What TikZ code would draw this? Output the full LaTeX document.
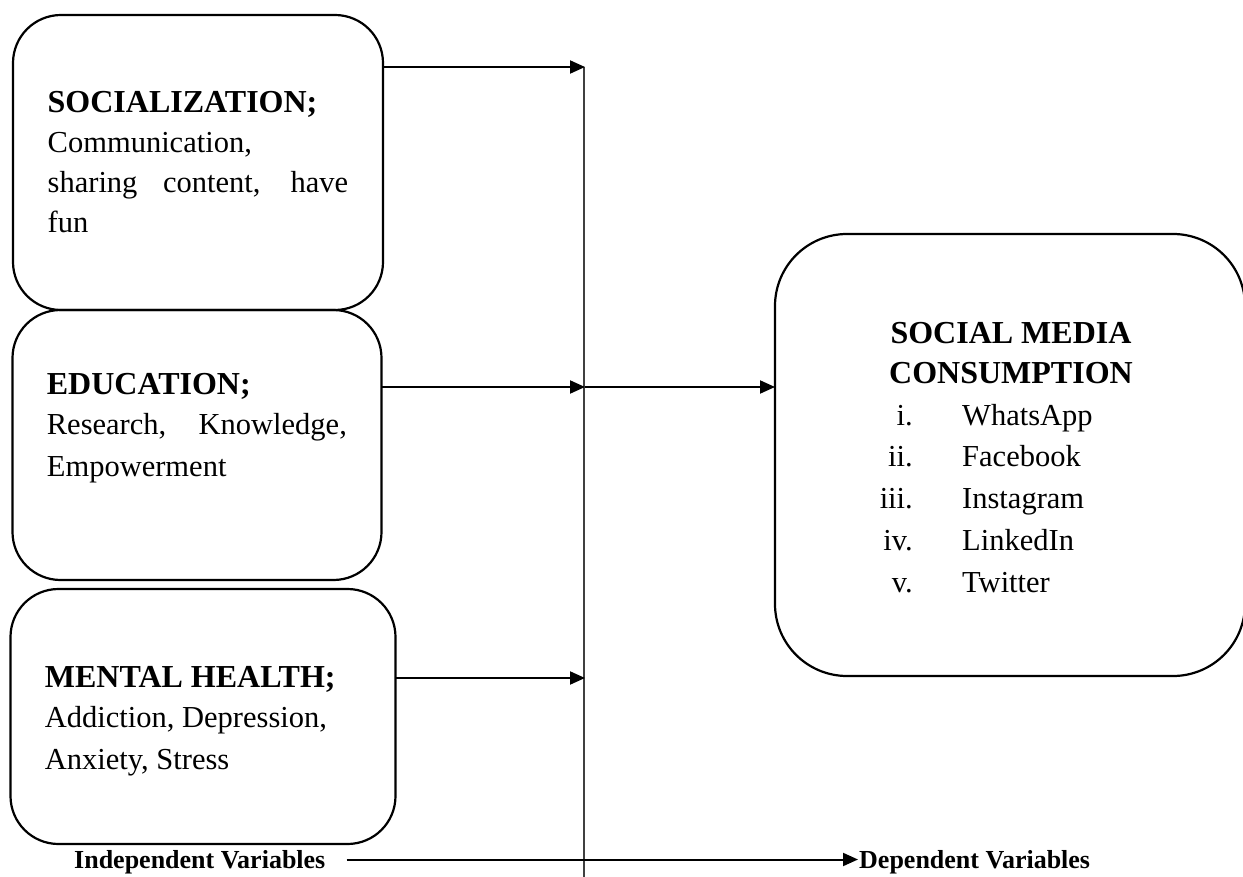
\documentclass[tikz,border=0pt]{standalone}
\usepackage{fontspec}
\setmainfont{Liberation Serif}
\usetikzlibrary{arrows.meta, positioning, calc}

\tikzset{
    varbox/.style={draw, line width=2.2pt, rounded corners=48pt, inner sep=0pt, outer sep=0pt},
    arrow/.style={line width=2pt, -{Triangle[length=15pt, width=13pt]}},
    head/.style={anchor=base west, inner sep=0pt, font=\fontsize{32}{40}\selectfont\bfseries},
    body/.style={anchor=base west, inner sep=0pt, font=\fontsize{30.5}{40.5}\selectfont},
    foot/.style={anchor=base west, inner sep=0pt, text height=17pt, text depth=0pt, font=\fontsize{26}{30}\selectfont\bfseries}
}

\begin{document}
\begin{tikzpicture}[x=1pt, y=-1pt]
    \useasboundingbox (0,0) rectangle (1243,877);

    % independent variable boxes
    \node[varbox, minimum width=370pt, minimum height=295pt] (soc) at (198,162.5) {};
    \node[varbox, minimum width=369pt, minimum height=270pt] (edu) at (197,445) {};
    \node[varbox, minimum width=385pt, minimum height=255pt] (men) at (203,716.5) {};

    % dependent variable box
    \node[varbox, rounded corners=72pt, minimum width=470pt, minimum height=442pt] (cons) at (1010,455) {};

    % socialization
    \node[head] (soc-h) at (47.5,113) {SOCIALIZATION;};
    \node[body] (soc-1) at (47.5,153) {Communication,};
    \node[body] (soc-2) at (47.5,193) {\makebox[300.5pt][s]{sharing content, have}};
    \node[body] (soc-3) at (47.5,233) {fun};

    % education
    \node[head] (edu-h) at (46.7,395) {EDUCATION;};
    \node[body] (edu-1) at (46.7,435) {\makebox[300pt][s]{Research, Knowledge,}};
    \node[body] (edu-2) at (46.7,476) {Empowerment};

    % mental health
    \node[head] (men-h) at (44.7,687) {MENTAL HEALTH;};
    \node[body] (men-1) at (44.7,727) {Addiction, Depression,};
    \node[body] (men-2) at (44.7,769) {Anxiety, Stress};

    % social media consumption
    \node[head, anchor=base] (cons-h1) at (1011,344) {SOCIAL MEDIA};
    \node[head, anchor=base] (cons-h2) at (1011,384) {CONSUMPTION};
    \foreach \num/\app [count=\i] in {i./WhatsApp, ii./Facebook, iii./Instagram, iv./LinkedIn, v./Twitter} {
        \node[body, anchor=base east] (num-\i) at (913,{425+41.75*(\i-1)}) {\num};
        \node[body] (app-\i) at (962,{425+41.75*(\i-1)}) {\app};
    }

    % vertical divider
    \coordinate (v1) at (585,67);
    \coordinate (v2) at (585,387);
    \coordinate (v3) at (585,678);
    \coordinate (vb) at (584,880);
    \draw[line width=1.3pt, black!75] (584,67) -- (vb);

    % arrows
    \draw[arrow] (soc.east |- v1) -- (v1);
    \draw[arrow] (edu.east |- v2) -- (v2);
    \draw[arrow] (men.east |- v3) -- (v3);
    \draw[arrow] (v2) -- (cons.west |- v2);

    % bottom labels
    \node[foot] (indep) at (74,868) {Independent Variables};
    \node[foot] (dep) at (859,868) {Dependent Variables};
    \draw[arrow] ([xshift=21pt]indep.east) -- ([xshift=-1pt]dep.west);
\end{tikzpicture}
\end{document}
